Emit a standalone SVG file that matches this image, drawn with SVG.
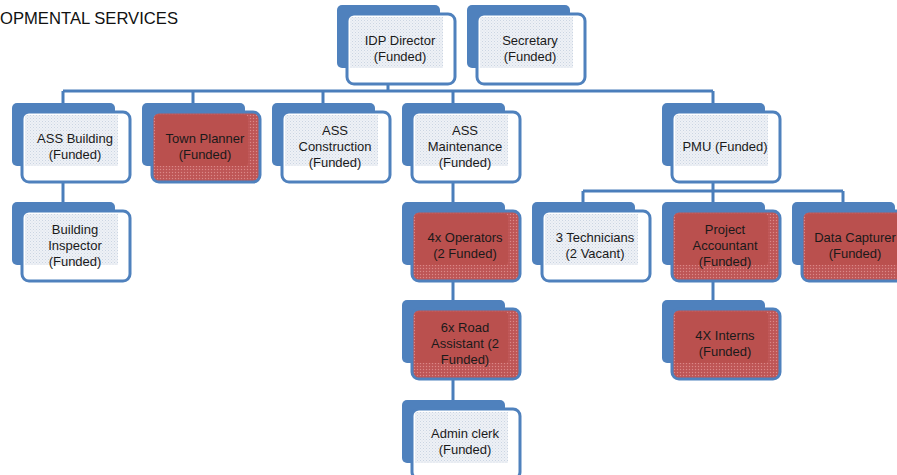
<svg xmlns="http://www.w3.org/2000/svg" width="897" height="475" viewBox="0 0 897 475">
  <defs>
    <pattern id="dotsLight" width="3" height="3" patternUnits="userSpaceOnUse">
      <rect width="3" height="3" fill="#EEF1F6"/>
      <rect x="0" y="0" width="1" height="1" fill="#CBD5E2"/>
      <rect x="1.5" y="1.5" width="1" height="1" fill="#D8DFE9"/>
    </pattern>
    <pattern id="dotsRed" width="3" height="3" patternUnits="userSpaceOnUse">
      <rect width="3" height="3" fill="#C25A5A"/>
      <rect x="0" y="0" width="1" height="1" fill="#D98A89"/>
      <rect x="1.5" y="1.5" width="1" height="1" fill="#B04848"/>
    </pattern>
    <g id="nodeWhite">
      <rect x="0" y="0" width="103" height="63" rx="5" class="back"/>
      <rect x="10" y="9" width="108" height="70" rx="7" class="front"/>
      <rect x="13" y="12" width="93" height="51" fill="url(#dotsLight)"/>
    </g>
    <g id="nodeRed">
      <rect x="0" y="0" width="103" height="63" rx="5" class="back"/>
      <rect x="10" y="9" width="108" height="70" rx="7" class="front" fill="url(#dotsRed)"/>
      <rect x="13" y="12" width="93" height="51" rx="3" fill="#BA504E"/>
    </g>
  </defs>
  <style>
    .back { fill: #4F81BD; }
    .front { fill: #FFFFFF; stroke: #4F81BD; stroke-width: 3; }
    #nodeRed .front { fill: url(#dotsRed); }
    .conn { fill: none; stroke: #4A7EBB; stroke-width: 3; }
    text { font-family: "Liberation Sans", Arial, sans-serif; font-size: 13px; fill: #1A1A1A; text-anchor: middle; }
    .title { font-size: 17px; text-anchor: start; fill: #111111; }
  </style>

  <rect width="897" height="475" fill="#FFFFFF"/>

  <text class="title" x="0" y="24" textLength="178" lengthAdjust="spacingAndGlyphs">OPMENTAL SERVICES</text>

  <!-- connectors -->
  <g id="connectors">
    <path class="conn" d="M388 82 V91 M63 91 H713 M63 91 V103 M193 91 V103 M323 91 V103 M453 91 V103 M713 91 V103"/>
    <path class="conn" d="M63 182 V202"/>
    <path class="conn" d="M453 182 V202 M453 281 V300 M453 379 V400"/>
    <path class="conn" d="M713 182 V191 M583 191 H843 M583 191 V202 M713 191 V202 M843 191 V202"/>
    <path class="conn" d="M713 281 V300"/>
  </g>

  <!-- level 1 -->
  <g id="idp-director">
    <use href="#nodeWhite" x="337" y="5"/>
    <text x="400" y="45">IDP Director</text>
    <text x="400" y="61">(Funded)</text>
  </g>
  <g id="secretary">
    <use href="#nodeWhite" x="467" y="5"/>
    <text x="530" y="45">Secretary</text>
    <text x="530" y="61">(Funded)</text>
  </g>

  <!-- level 2 -->
  <g id="ass-building">
    <use href="#nodeWhite" x="12" y="103"/>
    <text x="75" y="143">ASS Building</text>
    <text x="75" y="159">(Funded)</text>
  </g>
  <g id="town-planner">
    <use href="#nodeRed" x="142" y="103"/>
    <text x="205" y="143">Town Planner</text>
    <text x="205" y="159">(Funded)</text>
  </g>
  <g id="ass-construction">
    <use href="#nodeWhite" x="272" y="103"/>
    <text x="335" y="135">ASS</text>
    <text x="335" y="151">Construction</text>
    <text x="335" y="167">(Funded)</text>
  </g>
  <g id="ass-maintenance">
    <use href="#nodeWhite" x="402" y="103"/>
    <text x="465" y="135">ASS</text>
    <text x="465" y="151">Maintenance</text>
    <text x="465" y="167">(Funded)</text>
  </g>
  <g id="pmu">
    <use href="#nodeWhite" x="662" y="103"/>
    <text x="725" y="151">PMU (Funded)</text>
  </g>

  <!-- level 3 -->
  <g id="building-inspector">
    <use href="#nodeWhite" x="12" y="202"/>
    <text x="75" y="234">Building</text>
    <text x="75" y="250">Inspector</text>
    <text x="75" y="266">(Funded)</text>
  </g>
  <g id="operators">
    <use href="#nodeRed" x="402" y="202"/>
    <text x="465" y="242">4x Operators</text>
    <text x="465" y="258">(2 Funded)</text>
  </g>
  <g id="technicians">
    <use href="#nodeWhite" x="532" y="202"/>
    <text x="595" y="242">3 Technicians</text>
    <text x="595" y="258">(2 Vacant)</text>
  </g>
  <g id="project-accountant">
    <use href="#nodeRed" x="662" y="202"/>
    <text x="725" y="234">Project</text>
    <text x="725" y="250">Accountant</text>
    <text x="725" y="266">(Funded)</text>
  </g>
  <g id="data-capturer">
    <use href="#nodeRed" x="792" y="202"/>
    <text x="855" y="242">Data Capturer</text>
    <text x="855" y="258">(Funded)</text>
  </g>

  <!-- level 4 -->
  <g id="road-assistant">
    <use href="#nodeRed" x="402" y="300"/>
    <text x="465" y="332">6x Road</text>
    <text x="465" y="348">Assistant (2</text>
    <text x="465" y="364">Funded)</text>
  </g>
  <g id="interns">
    <use href="#nodeRed" x="662" y="300"/>
    <text x="725" y="340">4X Interns</text>
    <text x="725" y="356">(Funded)</text>
  </g>

  <!-- level 5 -->
  <g id="admin-clerk">
    <use href="#nodeWhite" x="402" y="400"/>
    <text x="465" y="438">Admin clerk</text>
    <text x="465" y="454">(Funded)</text>
  </g>
</svg>
